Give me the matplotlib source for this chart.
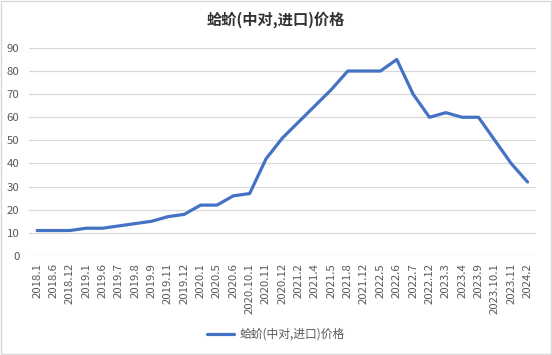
import matplotlib
matplotlib.use("Agg")
import matplotlib.pyplot as plt
from matplotlib.patches import Rectangle

plt.rcParams['font.family'] = ['Noto Sans CJK SC', 'DejaVu Sans']

categories = ["2018.1", "2018.6", "2018.12", "2019.1", "2019.6", "2019.7", "2019.8",
              "2019.9", "2019.11", "2019.12", "2020.1", "2020.5", "2020.6", "2020.10.1",
              "2020.11", "2020.12", "2021.2", "2021.4", "2021.5", "2021.8", "2021.12",
              "2022.5", "2022.6", "2022.7", "2022.12", "2023.3", "2023.4", "2023.9",
              "2023.10.1", "2023.11", "2024.2"]
prices = [11, 11, 11, 12, 12, 13, 14, 15, 17, 18, 22, 22, 26, 27, 42, 51, 58, 65, 72,
          80, 80, 80, 85, 70, 60, 62, 60, 60, 50, 40, 32]
yticks = [0, 10, 20, 30, 40, 50, 60, 70, 80, 90]
series_name = "蛤蚧(中对,进口)价格"

fig = plt.figure(figsize=(5.52, 3.55), dpi=100)
ax = fig.add_axes([0.0525, 0.279, 0.918, 0.586])

x = list(range(len(categories)))
ax.plot(x, prices, color="#4472C4", linewidth=2.3, label=series_name,
        solid_joinstyle="round", solid_capstyle="round", zorder=3)

ax.set_xlim(-0.5, len(categories) - 0.5)
ax.set_ylim(0, 90)
ax.set_yticks(yticks)
ax.set_xticks(x)
ax.set_xticklabels(categories, rotation=90, fontsize=8.2, color="#595959")
ax.tick_params(axis='y', labelsize=8.2, labelcolor="#595959", length=0, pad=7)
ax.tick_params(axis='x', length=0, pad=5)
ax.grid(axis='y', color="#D9D9D9", linewidth=0.9)
ax.set_axisbelow(True)
for s in ax.spines.values():
    s.set_visible(False)

fig.text(0.5, 0.945, series_name, ha='center', va='center', fontsize=11,
         fontweight='bold', color="#333333")

fig.legend(loc='center', bbox_to_anchor=(0.5, 0.058), frameon=False,
           fontsize=8.5, labelcolor="#595959", handlelength=2.3, handletextpad=0.5)

fig.patches.append(Rectangle((0.001, 0.002), 0.997, 0.995, transform=fig.transFigure,
                             fill=False, edgecolor="#D9D9D9", linewidth=1))

fig.savefig("out.png", dpi=100)
